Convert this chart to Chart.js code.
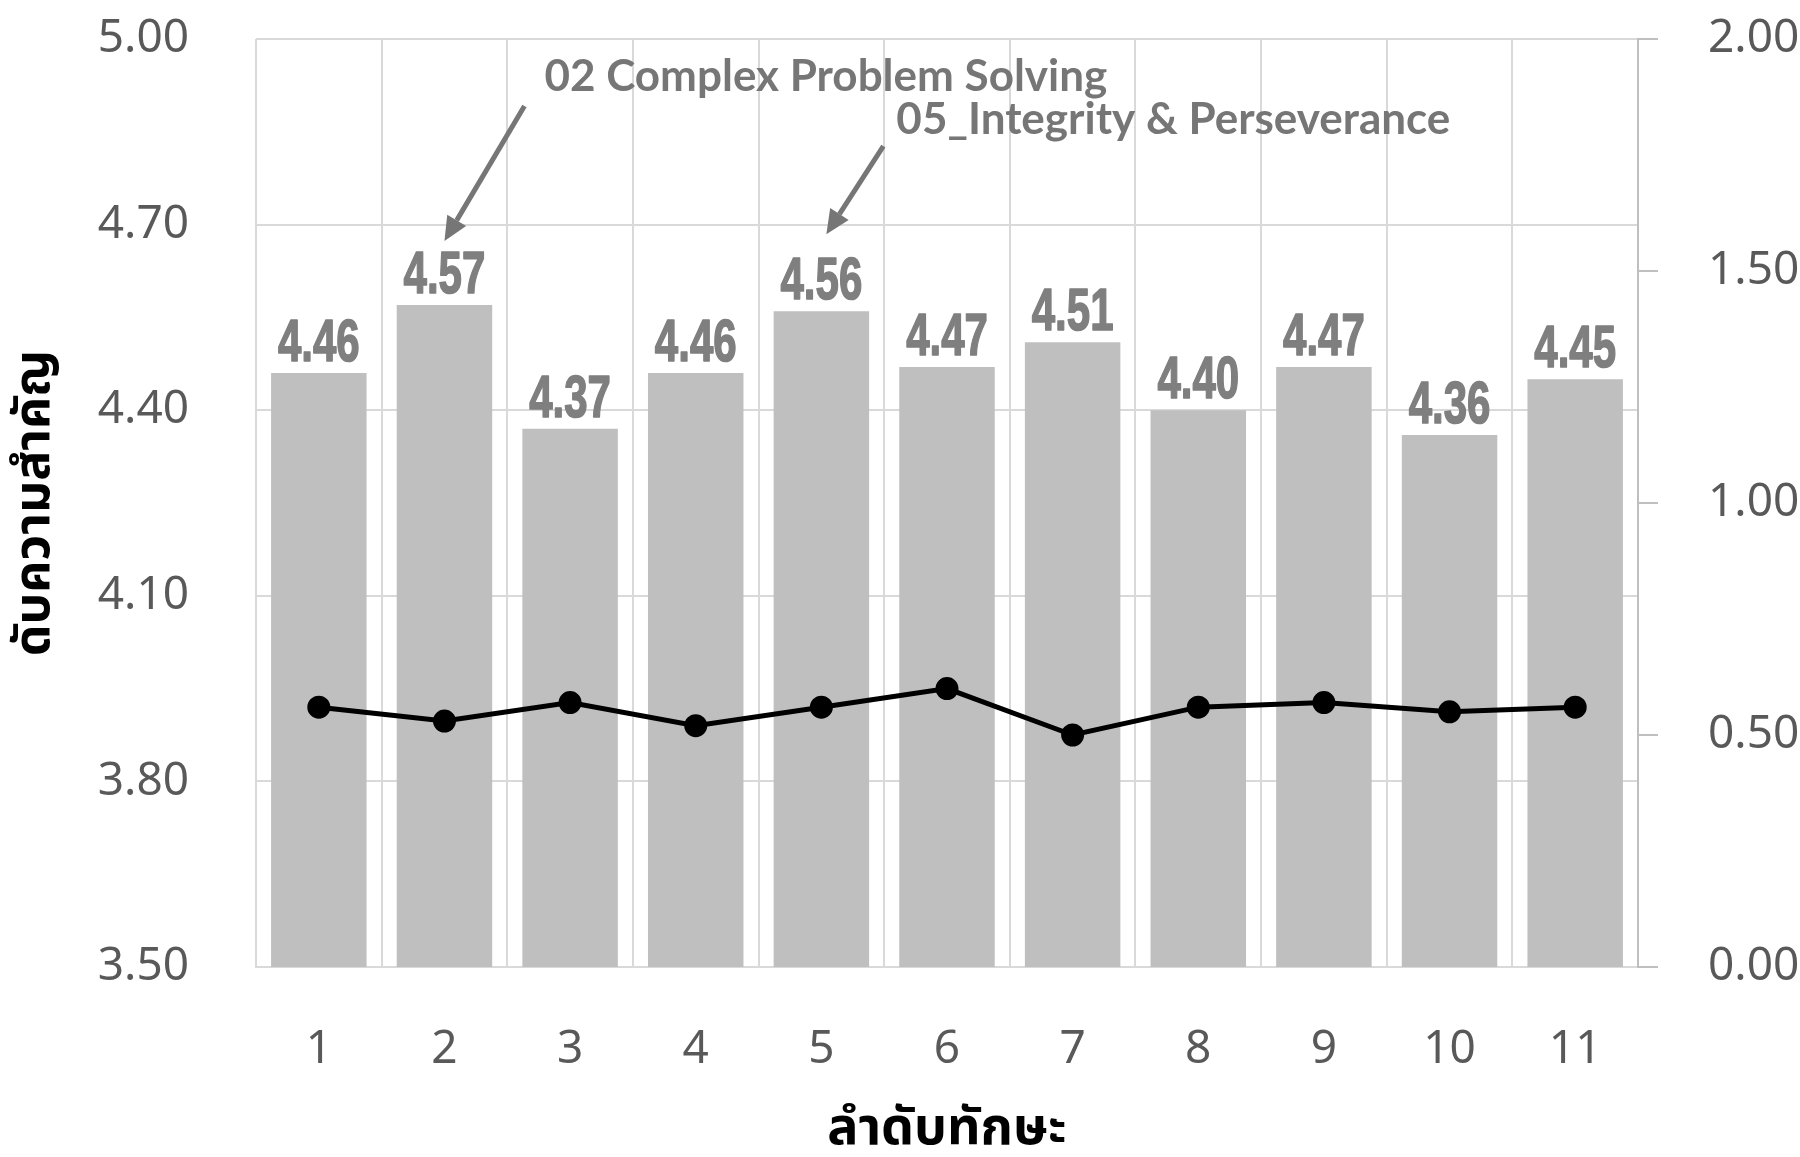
<!DOCTYPE html>
<html>
<head>
<meta charset="utf-8">
<script src="https://cdn.jsdelivr.net/npm/chart.js@4.4.1/dist/chart.umd.min.js"></script>
<style>
  html, body { margin: 0; padding: 0; background: #fff; }
  #wrap { width: 1800px; height: 1157px; }
</style>
</head>
<body>
<div id="wrap"><canvas id="chart" width="1800" height="1157"></canvas></div>
<script>
// data
const skills = ["1", "2", "3", "4", "5", "6", "7", "8", "9", "10", "11"];
const importance = [4.46, 4.57, 4.37, 4.46, 4.56, 4.47, 4.51, 4.40, 4.47, 4.36, 4.45];
const spread = [0.56, 0.53, 0.57, 0.52, 0.56, 0.60, 0.50, 0.56, 0.57, 0.55, 0.56];
const leftTicks = [3.5, 3.8, 4.1, 4.4, 4.7, 5.0];
const rightTicks = [0, 0.5, 1.0, 1.5, 2.0];
const noteIndex = [1, 4];
const noteText = ["02 Complex Problem Solving", "05_Integrity & Perseverance"];

const tickFont = { family: "'Noto Sans', 'DejaVu Sans', sans-serif", size: 46 };
const thaiFont = "'Noto Sans Thai', 'Noto Sans', 'DejaVu Sans', sans-serif";

// arrow tip offset from the bar top, then tail / text offsets from the tip
const noteLayout = [
  { tip: [0, -64], tail: [80, -135], text: [100, -164] },
  { tip: [5, -77], tail: [57, -88], text: [70, -114] }
];

const barLabels = {
  id: "barLabels",
  afterDatasetsDraw(chart) {
    const ctx = chart.ctx;
    const meta = chart.getDatasetMeta(0);
    ctx.save();
    ctx.fillStyle = "#7f7f7f";
    ctx.strokeStyle = "#7f7f7f";
    ctx.lineWidth = 1.6;
    ctx.lineJoin = "round";
    ctx.font = "bold 60px 'Liberation Sans', Arial, sans-serif";
    ctx.textAlign = "center";
    ctx.textBaseline = "alphabetic";
    meta.data.forEach((bar, i) => {
      const txt = importance[i].toFixed(2);
      ctx.save();
      ctx.translate(bar.x, bar.y - 12);
      ctx.scale(0.7, 1);
      ctx.fillText(txt, 0, 0);
      ctx.strokeText(txt, 0, 0);
      ctx.restore();
    });
    ctx.restore();
  }
};

const notes = {
  id: "notes",
  afterDraw(chart) {
    const ctx = chart.ctx;
    const meta = chart.getDatasetMeta(0);
    ctx.save();
    noteIndex.forEach((idx, n) => {
      const bar = meta.data[idx];
      const lay = noteLayout[n];
      const tipX = bar.x + lay.tip[0], tipY = bar.y + lay.tip[1];
      const tx = tipX + lay.tail[0], ty = tipY + lay.tail[1];
      const ang = Math.atan2(tipY - ty, tipX - tx);
      const headLen = 24, headW = 11;
      const bx = tipX - headLen * Math.cos(ang), by = tipY - headLen * Math.sin(ang);

      ctx.strokeStyle = "#767676";
      ctx.fillStyle = "#767676";
      ctx.lineWidth = 5;
      ctx.beginPath();
      ctx.moveTo(tx, ty);
      ctx.lineTo(bx, by);
      ctx.stroke();
      ctx.beginPath();
      ctx.moveTo(tipX, tipY);
      ctx.lineTo(bx + headW * Math.sin(ang), by - headW * Math.cos(ang));
      ctx.lineTo(bx - headW * Math.sin(ang), by + headW * Math.cos(ang));
      ctx.closePath();
      ctx.fill();

      ctx.font = "bold 44px Lato, 'Noto Sans', sans-serif";
      ctx.textAlign = "left";
      ctx.textBaseline = "middle";
      ctx.fillText(noteText[n], tipX + lay.text[0], tipY + lay.text[1]);
    });
    ctx.restore();
  }
};

// keep the plot box where the picture has it
function noPad(s) {
  s.paddingTop = 0;
  s.paddingBottom = 0;
  s.paddingLeft = 0;
  s.paddingRight = 0;
}

const ctx = document.getElementById("chart");

const chart = new Chart(ctx, {
  data: {
    labels: skills,
    datasets: [
      {
        type: "bar",
        data: importance,
        yAxisID: "y",
        backgroundColor: "#bfbfbf",
        barPercentage: 0.76,
        categoryPercentage: 1,
        order: 2
      },
      {
        type: "line",
        data: spread,
        yAxisID: "y1",
        borderColor: "#000",
        borderWidth: 5,
        pointRadius: 9,
        pointBackgroundColor: "#000",
        pointBorderColor: "#000",
        tension: 0,
        order: 1
      }
    ]
  },
  options: {
    responsive: false,
    animation: false,
    devicePixelRatio: 1,
    layout: { padding: { top: 39, left: 0, right: 0, bottom: 0 } },
    plugins: {
      legend: { display: false },
      tooltip: { enabled: false }
    },
    scales: {
      x: {
        grid: { color: "#d9d9d9", lineWidth: 2, drawTicks: false, offset: true },
        border: { color: "#d9d9d9", width: 2 },
        ticks: { font: tickFont, color: "#595959", padding: 55, maxRotation: 0 },
        title: {
          display: true,
          text: "ลำดับทักษะ",
          color: "#000",
          font: { family: thaiFont, size: 52, weight: "bold", lineHeight: 1 },
          padding: { top: 0, bottom: -2 }
        },
        afterFit: s => { s.height = 190; noPad(s); }
      },
      y: {
        position: "left",
        min: 3.5,
        max: 5.0,
        afterBuildTicks: s => { s.ticks = leftTicks.map(v => ({ value: v })); },
        grid: { color: "#d9d9d9", lineWidth: 2, drawTicks: false },
        border: { display: false },
        ticks: {
          font: tickFont,
          color: "#595959",
          padding: 67,
          callback: v => Number(v).toFixed(2)
        },
        title: {
          display: true,
          text: "ดับความสำคัญ",
          color: "#000",
          font: { family: thaiFont, size: 50, weight: "bold", lineHeight: 1 },
          padding: { top: 14, bottom: 0 }
        },
        afterFit: s => { s.width = 256; noPad(s); }
      },
      y1: {
        position: "right",
        min: 0,
        max: 2,
        afterBuildTicks: s => { s.ticks = rightTicks.map(v => ({ value: v })); },
        grid: { drawOnChartArea: false, color: "#bfbfbf", lineWidth: 2, tickLength: 20 },
        border: { color: "#bfbfbf", width: 2 },
        ticks: {
          font: tickFont,
          color: "#595959",
          padding: 50,
          callback: v => Number(v).toFixed(2)
        },
        afterFit: s => { s.width = 162; noPad(s); }
      }
    }
  },
  plugins: [barLabels, notes]
});
</script>
</body>
</html>
